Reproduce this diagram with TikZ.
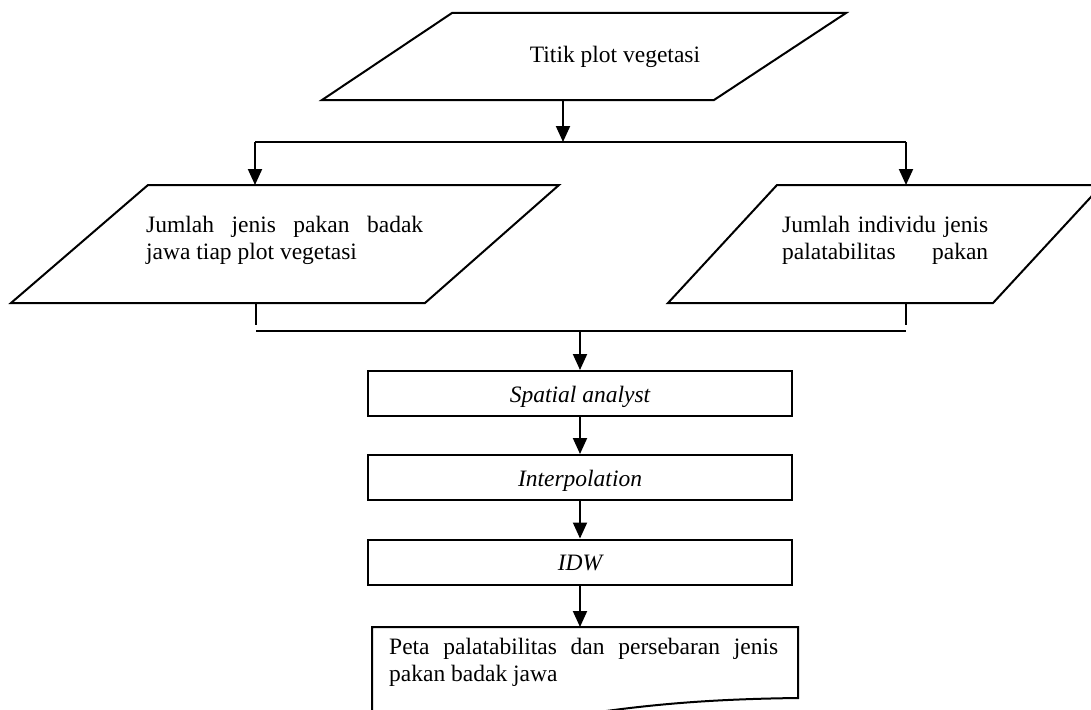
\documentclass[tikz,border=0pt]{standalone}
\usepackage{fontspec}
\setmainfont{Liberation Serif}
\usetikzlibrary{arrows.meta}
\begin{document}
\begin{tikzpicture}[x=1pt,y=-1pt,
  outline/.style={draw=black,line width=2pt,line join=miter},
  conn/.style={line width=2pt},
  arr/.style={conn,-{Triangle[length=16pt,width=14pt]}},
  lbl/.style={inner sep=0pt,font=\fontsize{23.5}{27}\selectfont},
  procbox/.style={outline,inner sep=0pt,minimum width=424pt,minimum height=45pt,
    text height=19pt,text depth=2pt,font=\fontsize{23.5}{27}\selectfont\itshape},
]
\useasboundingbox (0,0) rectangle (1091,709);
\begin{scope}
\clip (0,0) rectangle (1091,709);

% input: sampling points
\draw[outline] (322,100) -- (452,13) -- (846,13) -- (714,100) -- cycle;
\node[lbl,anchor=base] (t0) at (615,63) {Titik plot vegetasi};
\coordinate (p0out) at (563,100);

% split into the two data sets
\coordinate (split) at (563,142);
\coordinate (splitL) at (255,142);
\coordinate (splitR) at (906,142);
\coordinate (p1in) at (255,185);
\coordinate (p2in) at (906,185);
\draw[arr] (p0out) -- (split);
\draw[conn] (splitL) -- (splitR);
\draw[arr] (splitL) -- (p1in);
\draw[arr] (splitR) -- (p2in);

% left data set
\draw[outline] (11,303) -- (148,185) -- (559,185) -- (425,303) -- cycle;
\node[lbl,anchor=north west,align=left] (t1) at (146,215.5)
  {\makebox[277pt][s]{Jumlah jenis pakan badak}\\jawa tiap plot vegetasi};

% right data set
\draw[outline] (668,303) -- (777,185) -- (1102,185) -- (993,303) -- cycle;
\node[lbl,anchor=north west,align=left] (t2) at (782,215.5)
  {\makebox[206pt][s]{Jumlah individu jenis}\\\makebox[206pt][s]{palatabilitas pakan}};

% merge
\coordinate (p1out) at (256,303);
\coordinate (p1stub) at (256,325);
\coordinate (p2out) at (906,303);
\coordinate (p2stub) at (906,325);
\coordinate (mergeL) at (256,331);
\coordinate (mergeR) at (906,331);
\coordinate (merge) at (580,331);
\draw[conn] (p1out) -- (p1stub);
\draw[conn] (p2out) -- (p2stub);
\draw[conn] (mergeL) -- (mergeR);

% processing steps
\node[procbox] (b1) at (580,393.5) {Spatial analyst};
\node[procbox] (b2) at (580,477.5) {Interpolation};
\node[procbox] (b3) at (580,562) {IDW};
\draw[arr] (merge) -- (b1);
\draw[arr] (b1) -- (b2);
\draw[arr] (b2) -- (b3);

% output document
\coordinate (dtop) at (580,627);
\draw[outline] (372,740) -- (372,627) -- (798,627) -- (798,698)
  .. controls (720,699) and (650,703) .. (560,718);
\node[lbl,anchor=north west,align=left] (t3) at (389,638)
  {\makebox[389pt][s]{Peta palatabilitas dan persebaran jenis}\\pakan badak jawa};
\draw[arr] (b3) -- (dtop);
\end{scope}
\end{tikzpicture}
\end{document}
